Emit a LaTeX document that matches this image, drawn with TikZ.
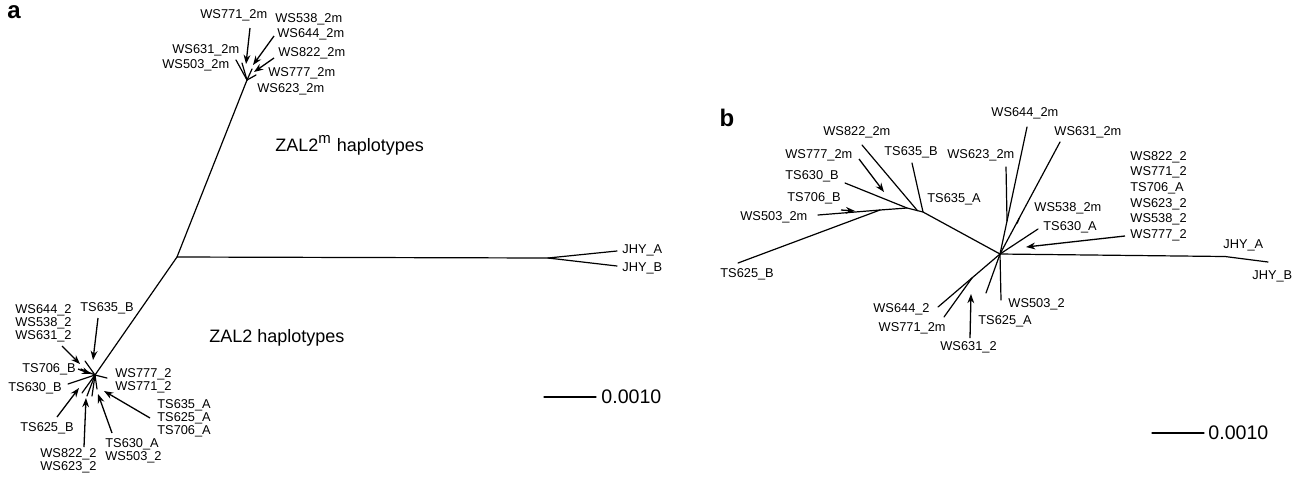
\documentclass[tikz,border=0pt]{standalone}
\usepackage{fontspec}
\setmainfont{Liberation Sans}
\usetikzlibrary{arrows.meta,calc}
\begin{document}
\begin{tikzpicture}[x=0.5pt,y=-0.5pt,
  br/.style={line width=0.6pt, line cap=round},
  arr/.style={line width=0.65pt, -{Stealth[length=4.6pt,width=3.4pt]}},
  lbl/.style={inner sep=0pt, font=\fontsize{6.4}{6.5}\selectfont, align=left},
  lblb/.style={inner sep=0pt, font=\fontsize{6.4}{7.8}\selectfont, align=left},
  title/.style={inner sep=0pt, font=\fontsize{9}{10}\selectfont},
  scl/.style={inner sep=0pt, font=\fontsize{9.8}{11}\selectfont},
  panel/.style={inner sep=0pt, font=\fontsize{12}{13}\selectfont\bfseries}]
\useasboundingbox (0,0) rectangle (1299,478);

% ---------------- panel a ----------------
\node[panel] (pa) at (14,12) {a};

\coordinate (aR) at (177,257);
\coordinate (aT) at (247,80);
\coordinate (aJ) at (548,258);
\coordinate (aJA) at (617,251);
\coordinate (aJB) at (617,266);
\coordinate (aB) at (95,375);

\draw[br] (aT) -- (aR) -- (aB);
\draw[br] (aR) -- (aJ) -- (aJA);
\draw[br] (aJ) -- (aJB);

% ZAL2m star
\foreach \p in {(236,60),(242,63),(252,69),(256,75)}
  \draw[br] (aT) -- \p;

\node[lbl,anchor=west] (aWS771m) at (200,15) {WS771\_2m};
\node[lbl,anchor=west] (aWS538m) at (275,19) {WS538\_2m};
\node[lbl,anchor=west] (aWS644m) at (277,34) {WS644\_2m};
\node[lbl,anchor=west] (aWS631m) at (172,50) {WS631\_2m};
\node[lbl,anchor=west] (aWS822m) at (278,53) {WS822\_2m};
\node[lbl,anchor=west] (aWS503m) at (162,65) {WS503\_2m};
\node[lbl,anchor=west] (aWS777m) at (268,73) {WS777\_2m};
\node[lbl,anchor=west] (aWS623m) at (257,89) {WS623\_2m};

\coordinate (t1) at (250,28);  \coordinate (h1) at (246,64);
\coordinate (t2) at (274,36);  \coordinate (h2) at (253,65);
\coordinate (t3) at (274,58);  \coordinate (h3) at (254,72);
\draw[arr] (t1) -- (h1);
\draw[arr] (t2) -- (h2);
\draw[arr] (t3) -- (h3);

\node[title,anchor=west] (zalm) at (275,145) {ZAL2\textsuperscript{\fontsize{7.5}{8}\selectfont m} haplotypes};
\node[title,anchor=west] (zal) at (209,338) {ZAL2 haplotypes};

\node[lbl,anchor=west] (aJHYA) at (622,250) {JHY\_A};
\node[lbl,anchor=west] (aJHYB) at (622,268) {JHY\_B};

% ZAL2 star
\foreach \p in {(85,361),(81,369),(68,384),(82,393),(87,396),(92,396),(97,389),(107,378)}
  \draw[br] (aB) -- \p;

\node[lbl,anchor=west] (aG1) at (15,323) {WS644\_2\\WS538\_2\\WS631\_2};
\node[lbl,anchor=west] (aTS635B) at (80,308) {TS635\_B};
\node[lbl,anchor=west] (aTS706B) at (22,369) {TS706\_B};
\node[lbl,anchor=west] (aTS630B) at (8,388) {TS630\_B};
\node[lbl,anchor=west] (aG2) at (115,381) {WS777\_2\\WS771\_2};
\node[lbl,anchor=west] (aG3) at (157,418) {TS635\_A\\TS625\_A\\TS706\_A};
\node[lbl,anchor=west] (aTS625B) at (20,428) {TS625\_B};
\node[lbl,anchor=west] (aG4) at (105,451) {TS630\_A\\WS503\_2};
\node[lbl,anchor=west] (aG5) at (40,461) {WS822\_2\\WS623\_2};

\coordinate (u1) at (62,346);  \coordinate (v1) at (80,364);
\coordinate (u2) at (98,318);  \coordinate (v2) at (93,360);
\coordinate (u3) at (78,369);  \coordinate (v3) at (91,374);
\coordinate (u4) at (57,417);  \coordinate (v4) at (79,388);
\coordinate (u5) at (84,447);  \coordinate (v5) at (86,398);
\coordinate (u6) at (112,433); \coordinate (v6) at (98,394);
\coordinate (u7) at (150,418); \coordinate (v7) at (104,391);
\foreach \i in {1,...,7} \draw[arr] (u\i) -- (v\i);

% scale bar a
\coordinate (sa1) at (544,397);
\coordinate (sa2) at (596,397);
\draw[br] (sa1) -- (sa2);
\node[scl,anchor=west] (sal) at (601,397) {0.0010};

% ---------------- panel b ----------------
\node[panel] (pb) at (727,118) {b};

\coordinate (C) at (1000,254);
\coordinate (bJ) at (1225,256.5);
\coordinate (bJB) at (1268,262);
\draw[br] (C) -- (bJ) -- (bJB);

\coordinate (b503) at (1001,300);
\coordinate (b625A) at (986,293);
\coordinate (b644) at (938,307);
\coordinate (b630A) at (1038,229);
\coordinate (b644m) at (1027,127);
\coordinate (b631m) at (1060,142);
\draw[br] (C) -- (b503);
\draw[br] (C) -- (b625A);
\draw[br] (C) -- (b644);
\draw[br] (C) -- (b630A);
\draw[br] (C) -- (b644m);
\draw[br] (C) -- (b631m);

\coordinate (n771) at ($(C)!0.45!(b644)$);
\coordinate (b771m) at (944,317);
\draw[br] (n771) -- (b771m);

\coordinate (n623) at ($(C)!0.26!(b644m)$);
\coordinate (b623m) at (1006,167);
\draw[br] (n623) -- (b623m);

\coordinate (n538) at ($(C)!0.32!(b631m)$);
\coordinate (b538m) at ($(n538)+(-2,5)$);
\draw[br] (n538) -- (b538m);

% left subtree
\coordinate (N3) at (923,212);
\coordinate (N4) at (907,208);
\coordinate (N5) at (880,210);
\coordinate (b503m) at (818,215);
\coordinate (b635B) at (912,163);
\coordinate (b630B) at (845,183);
\coordinate (b625B) at (738,263);
\coordinate (b822m) at (862,145);
\draw[br] (C) -- (N3) -- (N4) -- (N5) -- (b503m);
\draw[br] (N3) -- (b635B);
\draw[br] (N4) -- (b630B);
\draw[br] (N5) -- (b625B);
\coordinate (n822) at ($(N3)!0.35!(N4)$);
\draw[br] (n822) -- (b822m);

\node[lbl,anchor=west] (bWS644m) at (991,113) {WS644\_2m};
\node[lbl,anchor=west] (bWS631m) at (1054,132) {WS631\_2m};
\node[lbl,anchor=west] (bWS623m) at (947,155) {WS623\_2m};
\node[lbl,anchor=west] (bWS822m) at (823,132) {WS822\_2m};
\node[lbl,anchor=west] (bTS635B) at (884,152) {TS635\_B};
\node[lbl,anchor=west] (bWS777m) at (785,155) {WS777\_2m};
\node[lbl,anchor=west] (bTS630B) at (785,176) {TS630\_B};
\node[lbl,anchor=west] (bTS706B) at (787,198) {TS706\_B};
\node[lbl,anchor=west] (bTS635A) at (927,199) {TS635\_A};
\node[lbl,anchor=west] (bWS503m) at (740,217) {WS503\_2m};
\node[lbl,anchor=west] (bTS625B) at (720,274) {TS625\_B};
\node[lbl,anchor=west] (bWS538m) at (1034,208) {WS538\_2m};
\node[lbl,anchor=west] (bTS630A) at (1043,227) {TS630\_A};
\node[lblb,anchor=west] (bG) at (1130,196) {WS822\_2\\WS771\_2\\TS706\_A\\WS623\_2\\WS538\_2\\WS777\_2};
\node[lbl,anchor=west] (bJHYA) at (1223,245) {JHY\_A};
\node[lbl,anchor=west] (bJHYB) at (1252,276) {JHY\_B};
\node[lbl,anchor=east] (bWS644) at (930,309) {WS644\_2};
\node[lbl,anchor=east] (bWS771m) at (946,328) {WS771\_2m};
\node[lbl,anchor=west] (bWS631) at (940,347) {WS631\_2};
\node[lbl,anchor=west] (bTS625A) at (978,321) {TS625\_A};
\node[lbl,anchor=west] (bWS503) at (1008,304) {WS503\_2};

\coordinate (p1) at (859,159);  \coordinate (q1) at (884,192);
\coordinate (p2) at (1125,236); \coordinate (q2) at (1026,247);
\coordinate (p3) at (970,338);  \coordinate (q3) at (971,294);
\coordinate (p4) at (841,210);  \coordinate (q4) at (855,211);
\draw[arr] (p1) -- (q1);
\draw[arr] (p2) -- (q2);
\draw[arr] (p3) -- (q3);
\draw[arr] (p4) -- (q4);

% scale bar b
\coordinate (sb1) at (1152,433);
\coordinate (sb2) at (1204,433);
\draw[br] (sb1) -- (sb2);
\node[scl,anchor=west] (sbl) at (1208,433) {0.0010};
\end{tikzpicture}
\end{document}
